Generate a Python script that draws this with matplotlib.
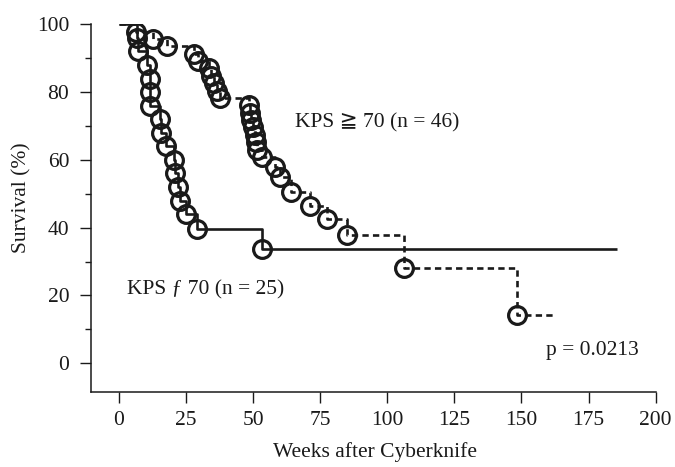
import numpy as np
import matplotlib
matplotlib.use("Agg")
import matplotlib.pyplot as plt

# -----------------------------
# DATA
# -----------------------------
# KPS >= 70 (n = 46), dashed curve
hi_weeks = [6.3, 12.8, 17.8, 27.9, 29.6, 33.5, 34.4, 35.3, 36.4, 37.8,
            48.3, 48.8, 49.4, 50.1, 50.7, 51.1, 51.6, 53.2, 58.0, 60.0,
            64.0, 71.2, 77.4, 84.9, 106.4, 148.5]
hi_surv = [97.8, 95.7, 93.5, 91.3, 89.1, 87.0, 84.8, 82.6, 80.4, 78.3,
           76.1, 73.9, 71.7, 69.6, 67.4, 65.2, 63.0, 60.9, 57.8, 54.8,
           50.6, 46.5, 42.6, 37.8, 28.0, 14.2]
hi_end = 161.6

# KPS < 70 (n = 25), solid curve
lo_weeks = [6.8, 7.2, 10.5, 11.5, 11.6, 11.7, 15.4, 15.7, 17.4, 20.7,
            20.9, 21.9, 22.7, 24.9, 29.0, 53.4]
lo_surv = [96, 92, 88, 84, 80, 76, 72, 68, 64, 60,
           56, 52, 48, 44, 39.6, 33.7]
lo_end = 185.4

x_ticks = [0, 25, 50, 75, 100, 125, 150, 175, 200]
y_ticks = [0, 20, 40, 60, 80, 100]

plt.rcParams['font.family'] = ['Liberation Serif', 'DejaVu Serif', 'DejaVu Sans']
plt.rcParams['mathtext.default'] = 'regular'

fig = plt.figure(figsize=(6.75, 4.67), dpi=100)
ax = fig.add_axes([0.1344, 0.1612, 0.837, 0.7868])


def km_curve(weeks, surv, end, ls):
    xs = [0] + list(weeks) + [end]
    ys = [100] + list(surv) + [surv[-1]]
    ax.step(xs, ys, where='post', color='#1a1a1a', lw=1.9, linestyle=ls,
            solid_capstyle='butt', dash_capstyle='butt')
    ax.plot(weeks, surv, 'o', ms=12.8, mfc='none', mec='#1a1a1a', mew=2.3)


km_curve(lo_weeks, lo_surv, lo_end, '-')
km_curve(hi_weeks, hi_surv, hi_end, (0, (2.4, 1.6)))

ax.set_xlim(-10.5, 200)
ax.set_ylim(-8.4, 100)

for s in ['top', 'right']:
    ax.spines[s].set_visible(False)
for s in ['left', 'bottom']:
    ax.spines[s].set_linewidth(1.1)
    ax.spines[s].set_color('#1a1a1a')

ax.set_xticks(x_ticks)
ax.set_yticks(y_ticks)
ax.set_yticks([10, 30, 50, 70, 90], minor=True)
ax.tick_params(axis='both', which='major', length=7.7, width=1.0,
               labelsize=15.5, pad=6, colors='#1a1a1a')
ax.tick_params(axis='y', which='minor', length=4, width=1.0, colors='#1a1a1a')
ax.tick_params(axis='y', which='major', pad=7.7)

fig.text(375 / 675, 1 - 452 / 467, 'Weeks after Cyberknife', ha='center',
         va='center', fontsize=15.5, color='#1a1a1a')
fig.text(21.7 / 675, 1 - 198 / 467, 'Survival (%)', ha='center', va='center',
         rotation=90, fontsize=15.5, color='#1a1a1a')

ax.text(65.6, 70.8, 'KPS \u2267 70 (n = 46)', fontsize=15.5, va='center',
        color='#1a1a1a')
ax.text(3.2, 21.6, 'KPS \u0192 70 (n = 25)', fontsize=15.5, va='center',
        color='#1a1a1a')
ax.text(159, 3.9, 'p = 0.0213', fontsize=15.5, va='center', color='#1a1a1a')

fig.savefig('out.png', dpi=100)
